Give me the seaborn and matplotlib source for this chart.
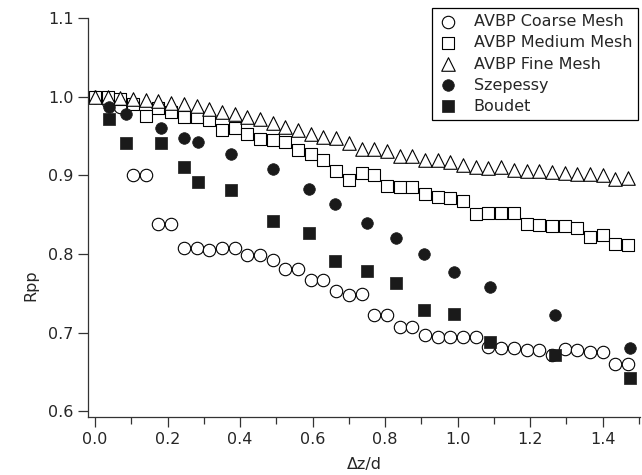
import numpy as np
import pandas as pd
import matplotlib
matplotlib.use("Agg")
import matplotlib.pyplot as plt
import seaborn as sns

# AVBP grid positions (dz/d)
x_avbp = [0.0, 0.035, 0.07, 0.105, 0.14, 0.175, 0.21, 0.245, 0.28, 0.315, 0.35,
          0.385, 0.42, 0.455, 0.49, 0.525, 0.56, 0.595, 0.63, 0.665, 0.70, 0.735,
          0.77, 0.805, 0.84, 0.875, 0.91, 0.945, 0.98, 1.015, 1.05, 1.085, 1.12,
          1.155, 1.19, 1.225, 1.26, 1.295, 1.33, 1.365, 1.40, 1.435, 1.47]

coarse = [1.0, 0.993, 0.987, 0.901, 0.901, 0.838, 0.838, 0.808, 0.808, 0.805, 0.808,
          0.808, 0.799, 0.799, 0.793, 0.781, 0.781, 0.767, 0.767, 0.753, 0.748, 0.749,
          0.723, 0.723, 0.707, 0.707, 0.697, 0.694, 0.694, 0.694, 0.694, 0.682, 0.681,
          0.681, 0.678, 0.678, 0.672, 0.679, 0.678, 0.676, 0.676, 0.660, 0.660]

medium = [1.0, 0.999, 0.997, 0.991, 0.976, 0.985, 0.980, 0.974, 0.974, 0.970, 0.957,
          0.960, 0.952, 0.946, 0.945, 0.942, 0.932, 0.927, 0.920, 0.905, 0.894, 0.903,
          0.901, 0.886, 0.885, 0.885, 0.876, 0.872, 0.871, 0.868, 0.851, 0.852, 0.852,
          0.852, 0.838, 0.837, 0.835, 0.835, 0.833, 0.821, 0.824, 0.813, 0.811]

fine = [1.0, 0.999, 0.998, 0.997, 0.996, 0.995, 0.992, 0.991, 0.988, 0.984, 0.981,
        0.978, 0.974, 0.971, 0.967, 0.962, 0.957, 0.953, 0.949, 0.947, 0.941, 0.934,
        0.934, 0.931, 0.924, 0.924, 0.920, 0.919, 0.917, 0.913, 0.910, 0.909, 0.910,
        0.907, 0.906, 0.906, 0.904, 0.903, 0.902, 0.902, 0.900, 0.895, 0.896]

# experiments
x_szep = [0.038, 0.085, 0.182, 0.246, 0.285, 0.375, 0.49, 0.59, 0.662, 0.751,
          0.829, 0.908, 0.99, 1.088, 1.269, 1.476]
szep = [0.987, 0.978, 0.960, 0.948, 0.942, 0.927, 0.908, 0.882, 0.863, 0.840,
        0.820, 0.800, 0.777, 0.758, 0.722, 0.681]

x_boud = [0.039, 0.085, 0.182, 0.246, 0.285, 0.375, 0.49, 0.59, 0.662, 0.751,
          0.829, 0.908, 0.99, 1.09, 1.269, 1.476]
boud = [0.971, 0.941, 0.941, 0.910, 0.892, 0.881, 0.842, 0.827, 0.791, 0.778,
        0.763, 0.729, 0.724, 0.688, 0.672, 0.642]

sns.set_style("ticks")
plt.rcParams['font.family'] = ['DejaVu Sans']

fig = plt.figure(figsize=(6.42, 4.75), dpi=100)
ax = fig.add_axes([88/642, 1-417/475, 552/642, 399/475])

sns.scatterplot(x=x_avbp, y=coarse, marker="o", s=80, color="white",
                edgecolor="black", linewidth=0.8, label="AVBP Coarse Mesh", ax=ax)
sns.scatterplot(x=x_avbp, y=medium, marker="s", s=75, color="white",
                edgecolor="black", linewidth=0.8, label="AVBP Medium Mesh", ax=ax)
sns.scatterplot(x=x_avbp, y=fine, marker="^", s=95, color="white",
                edgecolor="black", linewidth=0.8, label="AVBP Fine Mesh", ax=ax)
sns.scatterplot(x=x_szep, y=szep, marker="o", s=70, color="#1a1a1a",
                edgecolor="#1a1a1a", linewidth=0.5, label="Szepessy", ax=ax)
sns.scatterplot(x=x_boud, y=boud, marker="s", s=70, color="#1a1a1a",
                edgecolor="#1a1a1a", linewidth=0.5, label="Boudet", ax=ax)

ax.set_xlim(-0.0193, 1.503)
ax.set_ylim(0.5928, 1.1)
ax.set_xticks([0.0, 0.2, 0.4, 0.6, 0.8, 1.0, 1.2, 1.4])
ax.set_xticks([0.1, 0.3, 0.5, 0.7, 0.9, 1.1, 1.3, 1.5], minor=True)
ax.set_yticks([0.6, 0.7, 0.8, 0.9, 1.0, 1.1])
ax.tick_params(axis="both", which="major", direction="out", length=7, width=0.9,
               labelsize=11.5, color="#333333")
ax.tick_params(axis="x", which="minor", direction="out", length=5, width=0.9, color="#333333")
for s in ["left", "bottom"]:
    ax.spines[s].set_linewidth(0.9)
    ax.spines[s].set_color("#333333")
sns.despine(ax=ax)

ax.set_xlabel("Δz/d", fontsize=11.5)
ax.set_ylabel("Rpp", fontsize=11.5)
ax.xaxis.set_label_coords(0.5, -0.10)
ax.yaxis.set_label_coords(-0.09, 0.33)

leg = ax.legend(loc="upper left", bbox_to_anchor=(432/642, 1-8/475),
                bbox_transform=fig.transFigure, frameon=True, fancybox=False,
                edgecolor="black", fontsize=11.5, borderaxespad=0,
                handletextpad=1.0, labelspacing=0.38, borderpad=0.4,
                handlelength=1.2)
leg.get_frame().set_linewidth(0.9)
leg.get_frame().set_alpha(1)

fig.savefig("out.png", dpi=100)
